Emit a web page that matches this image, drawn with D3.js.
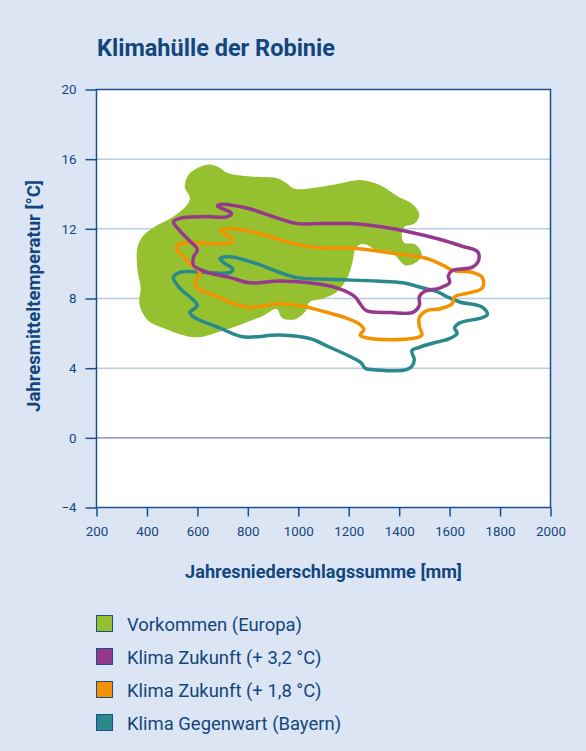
<!DOCTYPE html>
<html>
<head>
<meta charset="utf-8">
<script src="https://cdn.jsdelivr.net/npm/d3@7"></script>
<style>
  html, body { margin: 0; padding: 0; background: #dce5f3; }
  svg text { font-family: Roboto, "Open Sans", sans-serif; fill: #12467e; }
</style>
</head>
<body>
<div id="chart"></div>
<script>
// x ticks (precipitation, mm) and y ticks (mean temperature, °C)
var xTicks = [200, 400, 600, 800, 1000, 1200, 1400, 1600, 1800, 2000];
var yTicks = [-4, 0, 4, 8, 12, 16, 20];

// outline of the species' distribution in Europe [precip, temp]
var vorkommen = [
    [550,14.4],[565,15.1],[600,15.5],[650,15.7],[690,15.5],[720,15.2],[810,15.0],[915,14.9],
    [955,14.6],[985,14.3],[1085,14.4],[1165,14.6],[1245,14.8],[1325,14.5],[1390,13.9],[1455,13.4],
    [1480,12.8],[1460,12.3],[1420,12.1],[1410,11.6],[1420,11.2],[1465,11.1],[1490,10.5],[1470,10.1],
    [1425,9.9],[1395,10.3],[1370,10.7],[1305,10.8],[1270,11.1],[1245,11.1],[1225,10.8],[1215,10.1],
    [1195,9.2],[1155,8.4],[1100,8.0],[1045,7.8],[1030,7.3],[985,6.8],[935,6.9],[915,7.4],
    [860,7.0],[770,6.5],[690,6.1],[620,5.8],[570,5.8],[465,6.3],[400,6.8],[370,7.7],
    [375,8.6],[362,9.7],[362,10.9],[385,11.6],[440,12.2],[505,12.7],[560,13.4],[570,13.8]
];

// future climate +3.2 °C
var zukunft32 = [
    [690,13.4],[795,13.2],[900,12.7],[995,12.3],[1085,12.3],[1205,12.3],[1335,12.1],[1445,11.8],
    [1560,11.4],[1650,11.0],[1710,10.7],[1715,10.2],[1690,9.8],[1610,9.6],[1595,9.3],[1600,8.9],
    [1560,8.6],[1500,8.4],[1480,8.1],[1480,7.6],[1455,7.2],[1365,7.2],[1270,7.3],[1245,7.7],
    [1225,8.1],[1155,8.6],[1045,8.9],[925,9.0],[810,8.9],[730,9.2],[640,9.5],[585,9.9],
    [585,10.4],[600,10.8],[570,11.3],[530,11.9],[505,12.4],[530,12.6],[630,12.7],[720,12.7],
    [735,12.9],[710,13.1],[680,13.3]
];

// future climate +1.8 °C
var zukunft18 = [
    [690,11.9],[715,12.0],[795,11.9],[900,11.5],[995,11.1],[1085,10.9],[1205,10.9],[1375,10.6],
    [1510,10.3],[1575,9.9],[1615,9.6],[1690,9.5],[1730,9.2],[1730,8.6],[1670,8.3],[1620,8.1],
    [1610,7.7],[1560,7.4],[1510,7.3],[1480,6.9],[1480,6.4],[1490,5.9],[1450,5.7],[1285,5.7],
    [1245,5.9],[1260,6.2],[1245,6.5],[1185,6.9],[1115,7.2],[1005,7.6],[925,7.7],[795,7.5],
    [680,8.1],[600,8.6],[590,8.9],[610,9.5],[570,10.0],[545,10.4],[520,10.8],[525,11.1],
    [570,11.2],[730,11.2],[740,11.4],[720,11.6]
];

// present climate, Bavaria
var gegenwart = [
    [690,10.3],[730,10.4],[835,10.0],[925,9.5],[995,9.2],[1125,9.1],[1310,9.0],[1415,8.9],
    [1495,8.6],[1550,8.4],[1590,8.1],[1640,7.8],[1730,7.5],[1750,7.1],[1730,6.9],[1640,6.6],
    [1620,6.3],[1630,6.0],[1600,5.7],[1550,5.5],[1480,5.2],[1450,5.0],[1460,4.5],[1450,4.1],
    [1425,3.9],[1310,3.9],[1265,4.0],[1250,4.3],[1215,4.6],[1125,5.2],[1045,5.7],[925,5.9],
    [780,5.8],[690,6.3],[590,6.9],[570,7.2],[600,7.6],[570,8.1],[530,8.6],[505,9.2],
    [530,9.5],[730,9.5],[740,9.7],[710,10.0]
];

var legendLabels = ["Vorkommen (Europa)", "Klima Zukunft (+ 3,2 °C)", "Klima Zukunft (+ 1,8 °C)", "Klima Gegenwart (Bayern)"];
var legendColors = ["#95c131", "#96398d", "#f39200", "#2a898b"];

var width = 586, height = 751;

var svg = d3.select("#chart").append("svg")
    .attr("width", width)
    .attr("height", height);

svg.append("rect").attr("width", width).attr("height", height).attr("fill", "#dce5f3");

var x = d3.scaleLinear().domain([200, 2000]).range([96.5, 550.5]);
var y = d3.scaleLinear().domain([-4, 20]).range([507.5, 89.5]);

// scale font size so the text gets roughly the width it has in the original
function fitWidth(sel, target) {
    var fs = +sel.attr("font-size");
    var w = sel.node().getComputedTextLength();
    var nfs = w > 0 ? fs * target / w : fs;
    sel.attr("font-size", nfs.toFixed(2));
    return nfs;
}

// title
var title = svg.append("text")
    .attr("x", 97)
    .attr("y", 56)
    .attr("font-size", 20)
    .attr("font-weight", "bold")
    .text("Klimahülle der Robinie");
fitWidth(title, 238);

// plot background
svg.append("rect")
    .attr("x", x(200)).attr("y", y(20))
    .attr("width", x(2000) - x(200)).attr("height", y(-4) - y(20))
    .attr("fill", "#fff");

// grid lines
svg.append("g").selectAll("line")
    .data(yTicks.filter(function(d) { return d > -4 && d < 20; }))
    .enter().append("line")
    .attr("x1", x(200)).attr("x2", x(2000))
    .attr("y1", function(d) { return y(d); })
    .attr("y2", function(d) { return y(d); })
    .attr("stroke", function(d) { return d === 0 ? "#6f84ab" : "#b9cce5"; })
    .attr("stroke-width", function(d) { return d === 0 ? 1.2 : 1.5; });

// shapes
var line = d3.line()
    .x(function(d) { return x(d[0]); })
    .y(function(d) { return y(d[1]); })
    .curve(d3.curveCatmullRomClosed.alpha(0.5));

svg.append("path")
    .attr("d", line(vorkommen))
    .attr("fill", legendColors[0]);

[[gegenwart, legendColors[3]], [zukunft18, legendColors[2]], [zukunft32, legendColors[1]]].forEach(function(s) {
    svg.append("path")
        .attr("d", line(s[0]))
        .attr("fill", "none")
        .attr("stroke", s[1])
        .attr("stroke-width", 3.5)
        .attr("stroke-linejoin", "round");
});

// frame
var axisColor = "#1d4f8d";
svg.append("path")
    .attr("d", "M" + x(200) + "," + y(-4) + "V" + y(20) + "H" + x(2000) + "V" + y(-4) + "H" + x(200))
    .attr("fill", "none")
    .attr("stroke", axisColor)
    .attr("stroke-width", 1.5);

// axes
var xAxis = svg.append("g")
    .attr("transform", "translate(0," + y(-4) + ")")
    .call(d3.axisBottom(x).tickValues(xTicks).tickSize(9).tickPadding(10).tickFormat(d3.format("d")));

var yAxis = svg.append("g")
    .attr("transform", "translate(" + x(200) + ",0)")
    .call(d3.axisLeft(y).tickValues(yTicks).tickSize(11).tickPadding(9)
        .tickFormat(function(d) { return d < 0 ? "\u2212" + Math.abs(d) : d; }));

[xAxis, yAxis].forEach(function(a) {
    a.select(".domain").remove();
    a.selectAll("line").attr("stroke", axisColor).attr("stroke-width", 1.5);
    a.selectAll("text").attr("font-size", 14).attr("fill", "#12467e")
        .attr("font-family", "Roboto, 'Open Sans', sans-serif");
});
// tick label size from the width of "1000"
var tickFs = fitWidth(xAxis.selectAll("text").filter(function(d) { return d === 1000; }), 30);
xAxis.selectAll("text").attr("font-size", tickFs.toFixed(2));
yAxis.selectAll("text").attr("font-size", tickFs.toFixed(2));

// axis titles
var xTitle = svg.append("text")
    .attr("x", 323.5).attr("y", 578)
    .attr("text-anchor", "middle")
    .attr("font-size", 16)
    .attr("font-weight", "bold")
    .text("Jahresniederschlagssumme [mm]");
fitWidth(xTitle, 277);

var yTitle = svg.append("text")
    .attr("transform", "translate(40,296) rotate(-90)")
    .attr("text-anchor", "middle")
    .attr("font-size", 16)
    .attr("font-weight", "bold")
    .text("Jahresmitteltemperatur [°C]");
fitWidth(yTitle, 232);

// legend
var legend = svg.append("g").selectAll("g")
    .data(legendLabels)
    .enter().append("g")
    .attr("transform", function(d, i) { return "translate(96," + (615 + i * 33) + ")"; });

legend.append("rect")
    .attr("x", 0.5).attr("y", 0.5)
    .attr("width", 16).attr("height", 16)
    .attr("fill", function(d, i) { return legendColors[i]; })
    .attr("stroke", "#1d4f8d")
    .attr("stroke-width", 1);

var legendText = legend.append("text")
    .attr("x", 31).attr("y", 16)
    .attr("font-size", 17)
    .text(function(d) { return d; });
var legFs = fitWidth(legendText.filter(function(d, i) { return i === 0; }), 175);
legendText.attr("font-size", legFs.toFixed(2));
</script>
</body>
</html>
